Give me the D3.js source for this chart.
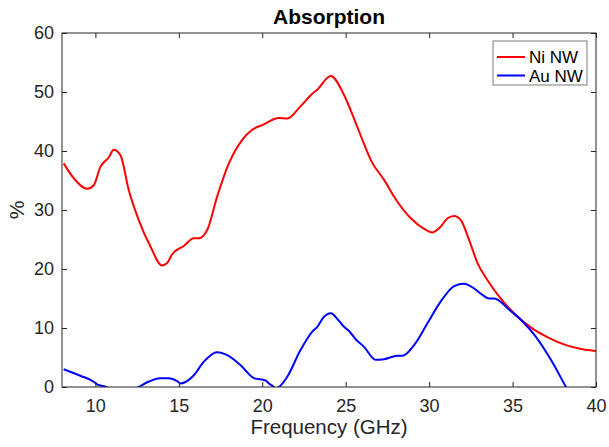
<!DOCTYPE html>
<html>
<head>
<meta charset="utf-8">
<script src="https://cdn.jsdelivr.net/npm/d3@7"></script>
<style>
  body { margin: 0; background: #fff; }
  svg { font-family: "Liberation Sans", Arial, sans-serif; }
</style>
</head>
<body>
<div id="chart"></div>
<script>
// values
const xTicks = [10, 15, 20, 25, 30, 35, 40];
const yTicks = [0, 10, 20, 30, 40, 50, 60];

const niFreq = [8.1, 8.7, 9.5, 9.9, 10.3, 10.8, 11.1, 11.5, 12.0, 12.6, 13.3, 14.0, 14.3, 14.6, 15.3, 15.9, 16.2, 16.7, 17.3, 18.0, 18.8, 19.4, 20.0, 21.0, 21.5, 22.3, 23.0, 23.3, 24.1, 24.9, 25.5, 26.0, 26.5, 27.3, 28.1, 28.9, 29.7, 30.2, 30.7, 31.1, 31.5, 31.9, 32.4, 32.9, 33.5, 34.2, 35.2, 36.2, 37.2, 38.2, 39.2, 40.0];
const niVals = [37.9, 35.4, 33.6, 34.2, 37.3, 38.9, 40.2, 39.3, 33.4, 28.3, 23.8, 20.6, 21.0, 22.5, 23.9, 25.2, 25.2, 26.6, 32.3, 37.9, 41.9, 43.6, 44.4, 45.6, 45.5, 47.6, 49.7, 50.4, 52.7, 49.5, 45.5, 41.9, 38.5, 35.1, 31.4, 28.6, 26.8, 26.2, 27.2, 28.6, 29.0, 28.3, 24.9, 21.0, 18.1, 15.3, 12.2, 9.9, 8.3, 7.1, 6.4, 6.1];

const auFreq = [8.1, 9.1, 9.9, 10.1, 10.6, 11.5, 12.6, 13.1, 13.9, 14.4, 14.9, 15.1, 15.4, 15.9, 16.5, 17.3, 17.9, 18.7, 19.5, 20.2, 20.4, 20.7, 20.8, 21.0, 21.5, 22.3, 23.0, 23.3, 23.7, 24.1, 24.6, 24.9, 25.2, 25.6, 26.1, 26.8, 27.3, 28.1, 28.4, 29.1, 29.9, 30.7, 31.5, 32.1, 32.7, 33.2, 33.6, 33.9, 34.8, 35.6, 36.4, 37.3, 38.2, 39.0, 40.0];
const auVals = [3.0, 1.9, 0.9, 0.45, 0.05, -0.8, 0.0, 0.8, 1.5, 1.5, 1.0, 0.6, 0.85, 2.0, 4.3, 5.9, 5.4, 3.7, 1.5, 1.1, 0.6, 0.0, -0.3, 0.0, 1.75, 6.3, 9.4, 10.2, 11.9, 12.5, 11.2, 10.2, 9.5, 8.1, 6.8, 4.6, 4.7, 5.3, 5.3, 7.1, 10.8, 14.5, 17.1, 17.5, 16.7, 15.6, 15.0, 15.0, 13.1, 11.1, 8.5, 4.6, 0.0, -4.0, -9.0];

const seriesNames = ["Ni NW", "Au NW"];
const seriesColors = ["#ff0000", "#0000ff"];

const width = 609, height = 447;
const margin = {top: 33, right: 13, bottom: 60, left: 62};
const innerW = width - margin.left - margin.right;
const innerH = height - margin.top - margin.bottom;
const axisColor = "#262626";

const svg = d3.select("#chart").append("svg")
  .attr("width", width)
  .attr("height", height);

const g = svg.append("g")
  .attr("transform", "translate(" + margin.left + "," + margin.top + ")");

const x = d3.scaleLinear().domain([8, 40]).range([0, innerW]);
const y = d3.scaleLinear().domain([0, 60]).range([innerH, 0]);

g.append("clipPath").attr("id", "clip")
  .append("rect").attr("width", innerW).attr("height", innerH);

const series = [
  niFreq.map((f, i) => [f, niVals[i]]),
  auFreq.map((f, i) => [f, auVals[i]])
];

const line = d3.line()
  .x(d => x(d[0]))
  .y(d => y(d[1]))
  .curve(d3.curveMonotoneX);

g.append("g").attr("clip-path", "url(#clip)")
  .selectAll("path")
  .data(series)
  .join("path")
  .attr("fill", "none")
  .attr("stroke", (d, i) => seriesColors[i])
  .attr("stroke-width", 2)
  .attr("d", line);

// axes, ticks inside, box on
function styleAxis(sel) {
  sel.select(".domain").remove();
  sel.selectAll("line").attr("stroke", axisColor);
  sel.selectAll("text").attr("fill", axisColor).style("font-size", "18px");
}

g.append("g")
  .attr("transform", "translate(0," + innerH + ")")
  .call(d3.axisBottom(x).tickValues(xTicks).tickSizeInner(-5).tickSizeOuter(0).tickPadding(12))
  .call(styleAxis);

g.append("g")
  .call(d3.axisTop(x).tickValues(xTicks).tickSizeInner(-5).tickSizeOuter(0).tickFormat(""))
  .call(styleAxis);

g.append("g")
  .call(d3.axisLeft(y).tickValues(yTicks).tickSizeInner(-5).tickSizeOuter(0).tickPadding(8))
  .call(styleAxis);

g.append("g")
  .attr("transform", "translate(" + innerW + ",0)")
  .call(d3.axisRight(y).tickValues(yTicks).tickSizeInner(-5).tickSizeOuter(0).tickFormat(""))
  .call(styleAxis);

g.append("rect")
  .attr("width", innerW).attr("height", innerH)
  .attr("fill", "none")
  .attr("stroke", axisColor)
  .attr("stroke-width", 1);

// labels
svg.append("text")
  .attr("x", margin.left + innerW / 2).attr("y", 24)
  .attr("text-anchor", "middle")
  .style("font-size", "21px").style("font-weight", "bold")
  .attr("fill", "#000")
  .text("Absorption");

svg.append("text")
  .attr("x", margin.left + innerW / 2).attr("y", 434)
  .attr("text-anchor", "middle")
  .style("font-size", "20.5px")
  .attr("fill", axisColor)
  .text("Frequency (GHz)");

svg.append("text")
  .attr("transform", "translate(24," + (margin.top + innerH / 2) + ") rotate(-90)")
  .attr("text-anchor", "middle")
  .style("font-size", "21px")
  .attr("fill", axisColor)
  .text("%");

// legend
const legend = g.append("g").attr("transform", "translate(" + (innerW - 103) + ",8)");
legend.append("rect")
  .attr("width", 94).attr("height", 44)
  .attr("fill", "#fff")
  .attr("stroke", "#7a7a7a");

legend.selectAll("g.item")
  .data(seriesNames)
  .join("g")
  .attr("class", "item")
  .attr("transform", (d, i) => "translate(4," + (16 + i * 18.5) + ")")
  .each(function (d, i) {
    const item = d3.select(this);
    item.append("line")
      .attr("x1", 0).attr("x2", 28)
      .attr("stroke", seriesColors[i]).attr("stroke-width", 2);
    item.append("text")
      .attr("x", 32).attr("dy", "0.36em")
      .style("font-size", "17px")
      .attr("fill", "#000")
      .text(d);
  });
</script>
</body>
</html>
